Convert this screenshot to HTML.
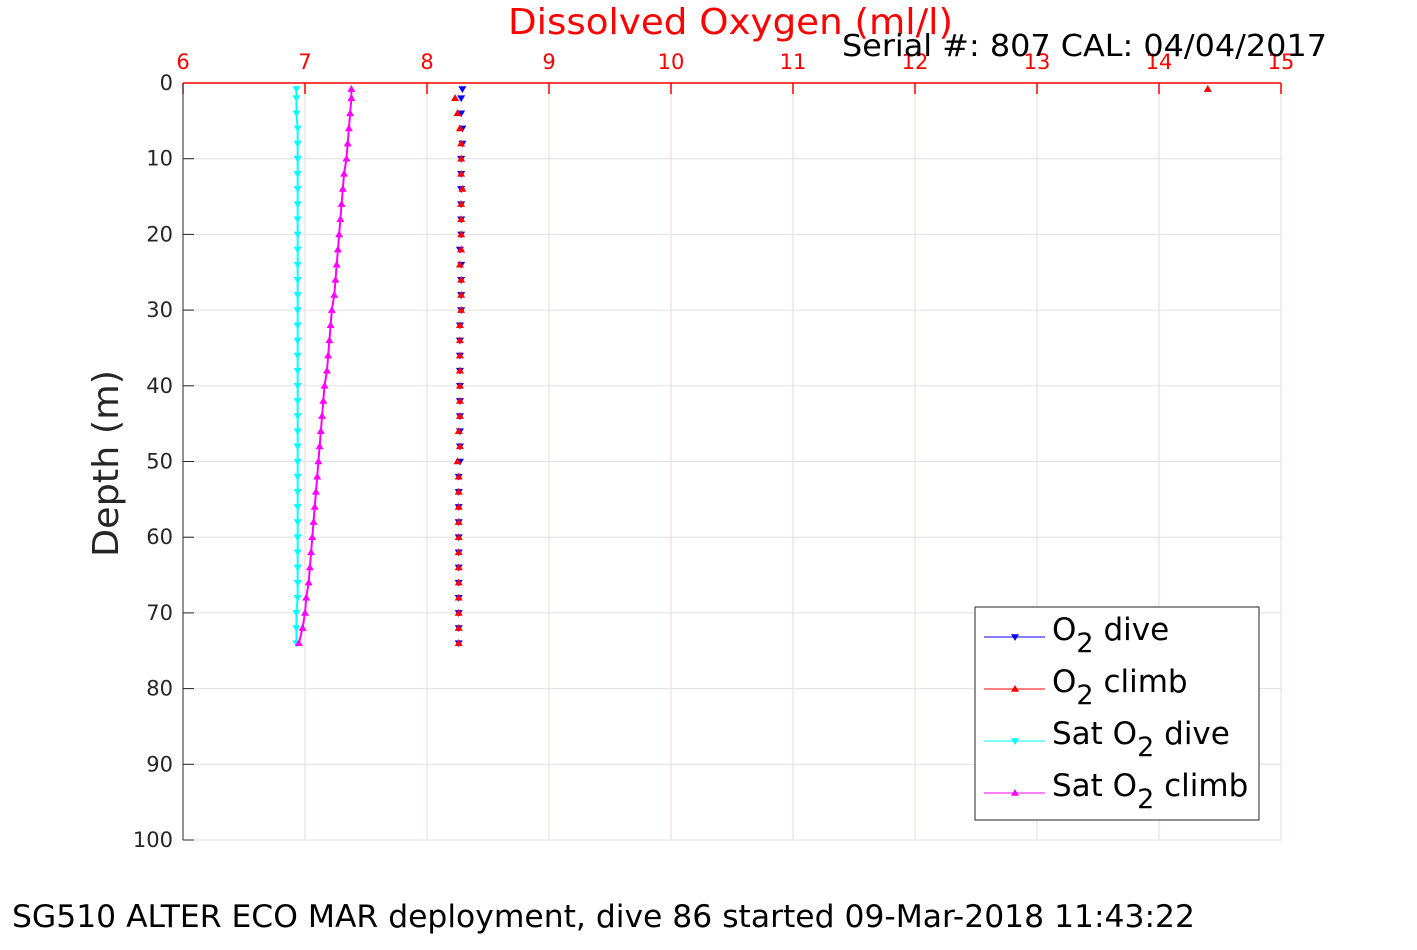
<!DOCTYPE html>
<html><head><meta charset="utf-8"><style>
body{margin:0;background:#fff;font-family:"Liberation Sans","DejaVu Sans",sans-serif}
svg text{font-family:"DejaVu Sans","Liberation Sans",sans-serif}
</style></head><body>
<svg id="chart" width="1417" height="945" xmlns="http://www.w3.org/2000/svg">
<rect width="1417" height="945" fill="#fff"/>
<g id="grid"></g><g id="axes"></g><g id="series"></g>
<text x="508" y="34" fill="#ff0000" font-size="36" textLength="445" lengthAdjust="spacingAndGlyphs">Dissolved Oxygen (ml/l)</text>
<text x="842" y="56" fill="#000" font-size="30" textLength="485" lengthAdjust="spacingAndGlyphs">Serial #: 807  CAL: 04/04/2017</text>
<text transform="translate(118,557) rotate(-90)" fill="#262626" font-size="36" textLength="187" lengthAdjust="spacingAndGlyphs">Depth (m)</text>
<text x="12" y="927" fill="#000" font-size="31" textLength="1183" lengthAdjust="spacingAndGlyphs">SG510 ALTER ECO MAR deployment, dive 86 started 09-Mar-2018 11:43:22</text>
<g>
<rect x="975" y="607" width="284" height="213" fill="#fff" stroke="#262626" stroke-width="1"/>
<g id="legend-items"></g>
</g>
</svg>
<script>
const xTicks=[6,7,8,9,10,11,12,13,14,15];
const yTicks=[0,10,20,30,40,50,60,70,80,90,100];
const depths=[0.8,2,4,6,8,10,12,14,16,18,20,22,24,26,28,30,32,34,36,38,40,42,44,46,48,50,52,54,56,58,60,62,64,66,68,70,72,74];
const o2Dive=[8.29,8.28,8.28,8.29,8.29,8.28,8.28,8.28,8.28,8.28,8.28,8.27,8.28,8.28,8.28,8.28,8.27,8.27,8.27,8.27,8.27,8.27,8.27,8.27,8.27,8.27,8.26,8.26,8.26,8.26,8.26,8.26,8.26,8.26,8.26,8.26,8.26,8.26];
const o2Climb=[14.4,8.23,8.25,8.27,8.28,8.28,8.28,8.29,8.28,8.28,8.28,8.28,8.27,8.28,8.28,8.28,8.27,8.27,8.27,8.27,8.27,8.27,8.27,8.26,8.27,8.25,8.26,8.26,8.26,8.26,8.26,8.26,8.26,8.26,8.26,8.26,8.26,8.26];
const satDive=[6.93,6.93,6.93,6.94,6.94,6.94,6.94,6.94,6.94,6.94,6.94,6.94,6.94,6.94,6.94,6.94,6.94,6.94,6.94,6.94,6.94,6.94,6.94,6.94,6.94,6.94,6.94,6.94,6.94,6.94,6.94,6.94,6.94,6.94,6.94,6.93,6.93,6.93];
const satClimb=[7.38,7.38,7.37,7.36,7.35,7.34,7.32,7.31,7.30,7.29,7.28,7.27,7.26,7.25,7.24,7.22,7.21,7.20,7.19,7.18,7.16,7.15,7.14,7.13,7.12,7.11,7.10,7.09,7.08,7.07,7.06,7.05,7.04,7.03,7.01,7.00,6.98,6.95];
const X0=183,X1=1281,Y0=83,Y1=840;
const xs=v=>X0+(v-6)/(15-6)*(X1-X0);
const ys=d=>Y0+d/100*(Y1-Y0);
const NS="http://www.w3.org/2000/svg";
function mk(tag,at,parent){const e=document.createElementNS(NS,tag);for(const k in at)e.setAttribute(k,at[k]);parent.appendChild(e);return e;}
const grid=document.getElementById('grid'),axes=document.getElementById('axes'),ser=document.getElementById('series');
xTicks.forEach(t=>{
 const g=mk('line',{x1:xs(t),x2:xs(t),y1:Y0,y2:Y1,stroke:'#f3d6d6','stroke-width':1},grid);
 
 
 const tk=mk('line',{x1:xs(t),x2:xs(t),y1:Y0,y2:Y0+11,stroke:'#ff0000','stroke-width':1.5},axes);
 
 
 const tx=mk('text',{x:xs(t),y:69,fill:'#ff0000','font-size':21,'text-anchor':'middle'},axes);
 tx.textContent=t;
 
 
});
yTicks.forEach(t=>{
 const g=mk('line',{x1:X0,x2:X1,y1:ys(t),y2:ys(t),stroke:'#e0e0e0','stroke-width':1},grid);
 
 
 const tk=mk('line',{x1:X0,x2:X0+11,y1:ys(t),y2:ys(t),stroke:'#262626','stroke-width':1},axes);
 
 
 const tx=mk('text',{x:X0-10,y:ys(t)+7,fill:'#262626','font-size':21,'text-anchor':'end'},axes);
 tx.textContent=t;
 
 
});
const ax=mk('line',{x1:X0,x2:X0,y1:Y0,y2:Y1,stroke:'#262626','stroke-width':1},axes);


const tx=mk('line',{x1:X0,x2:X1,y1:Y0,y2:Y0,stroke:'#ff0000','stroke-width':1.5},axes);


function marker(x,y,up,col,parent){
 const s=4;
 const pts=up?`${x},${y-s} ${x-s},${y+s*0.7} ${x+s},${y+s*0.7}`:`${x},${y+s} ${x-s},${y-s*0.7} ${x+s},${y-s*0.7}`;
 return mk('polygon',{points:pts,fill:col},parent);
}
function drawSeries(vals,col,up,name,line){
 const g=mk('g',{},ser);
 
 
 if(line){
  const p=mk('polyline',{points:vals.map((v,i)=>xs(v)+','+ys(depths[i])).join(' '),fill:'none',stroke:col,'stroke-width':2},g);
  
  
 }
 vals.forEach((v,i)=>{
  const m=marker(xs(v),ys(depths[i]),up,col,g);
  
  
 });
}
drawSeries(satDive,'#00ffff',false,'sat-o2-dive',true);
drawSeries(satClimb,'#ff00ff',true,'sat-o2-climb',true);
drawSeries(o2Dive,'#0000ff',false,'o2-dive',false);
drawSeries(o2Climb,'#ff0000',true,'o2-climb',false);
const leg=document.getElementById('legend-items');
const items=[['#0000ff',false,'O','2',' dive'],['#ff0000',true,'O','2',' climb'],['#00ffff',false,'Sat O','2',' dive'],['#ff00ff',true,'Sat O','2',' climb']];
items.forEach((it,i)=>{
 const y=637+i*52;
 const l=mk('line',{x1:984,x2:1045,y1:y,y2:y,stroke:it[0],'stroke-width':1},leg);
 
 
 const m=marker(1015,y,it[1],it[0],leg);
 
 
 const t=mk('text',{x:1052,y:y+3,fill:'#000','font-size':31},leg);
 
 
 t.appendChild(document.createTextNode(it[2]));
 const sub=mk('tspan',{dy:12,'font-size':27},t);sub.textContent=it[3];
 const rest=mk('tspan',{dy:-12},t);rest.textContent=it[4];
});
</script>
</body></html>
